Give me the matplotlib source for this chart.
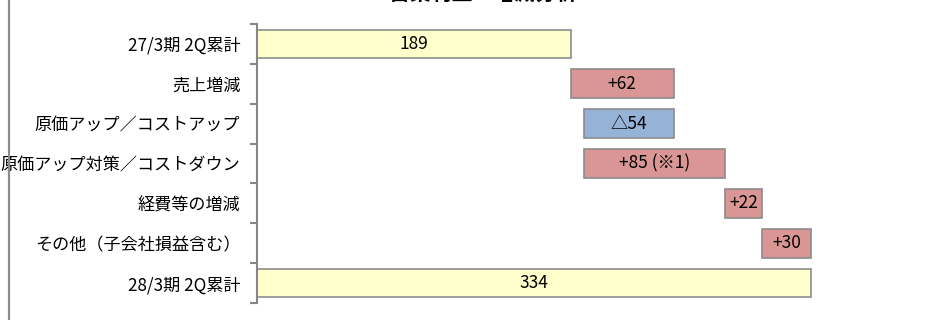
import matplotlib
matplotlib.use("Agg")
import matplotlib.pyplot as plt
import numpy as np
from matplotlib.lines import Line2D

plt.rcParams["font.family"] = ["Noto Sans CJK JP", "DejaVu Sans"]

# data
categories = ["27/3期 2Q累計", "売上増減", "原価アップ／コストアップ",
              "原価アップ対策／コストダウン", "経費等の増減",
              "その他（子会社損益含む）", "28/3期 2Q累計"]
start_total = 189
deltas = [62, -54, 85, 22, 30]
end_total = 334
value_labels = ["189", "+62", "△54", "+85 (※1)", "+22", "+30", "334"]

YELLOW = "#FFFFCC"
RED = "#D99694"
BLUE = "#95B3D7"
EDGE = "#8C8C8C"

# waterfall geometry from the values
running = start_total + np.cumsum(deltas)
prev = np.concatenate([[start_total], running[:-1]])
lefts = [0] + [min(p, r) for p, r in zip(prev, running)] + [0]
widths = [start_total] + [abs(d) for d in deltas] + [end_total]
colors = [YELLOW] + [RED if d > 0 else BLUE for d in deltas] + [YELLOW]

fig = plt.figure(figsize=(9.41, 3.2), dpi=100)
ax = fig.add_axes([257 / 941, 17 / 320, 664 / 941, 279 / 320])

y = np.arange(len(categories))
ax.barh(y, widths, left=lefts, height=0.72, color=colors,
        edgecolor=EDGE, linewidth=1.2, zorder=2)
for yi, l, w, txt in zip(y, lefts, widths, value_labels):
    ax.text(l + w / 2, yi, txt, ha="center", va="center", fontsize=12.5,
            color="black", zorder=3)

ax.set_xlim(0, 400)
ax.set_ylim(len(categories) - 0.5, -0.5)
ax.set_yticks(y)
ax.set_yticklabels(categories, fontsize=12.3)
ax.tick_params(axis="y", which="major", length=0, pad=12)
ax.set_yticks(np.arange(-0.5, len(categories), 1), minor=True)
ax.tick_params(axis="y", which="minor", length=5, width=1.5, color="#868686",
               direction="out")
ax.set_xticks([])
for side in ("top", "right", "bottom"):
    ax.spines[side].set_visible(False)
ax.spines["left"].set_color("#868686")
ax.spines["left"].set_linewidth(1.5)

# chart border on the left, title clipped at the top
fig.add_artist(Line2D([8.5 / 941, 8.5 / 941], [0.0, 1.0],
                      transform=fig.transFigure, color="#8C8C8C", linewidth=1.6))
fig.text(483 / 941, 1 + 6.5 / 320, "営業利益　増減分析", ha="center", va="center",
         fontsize=15, fontweight="bold")

fig.savefig("out.png", dpi=100)
